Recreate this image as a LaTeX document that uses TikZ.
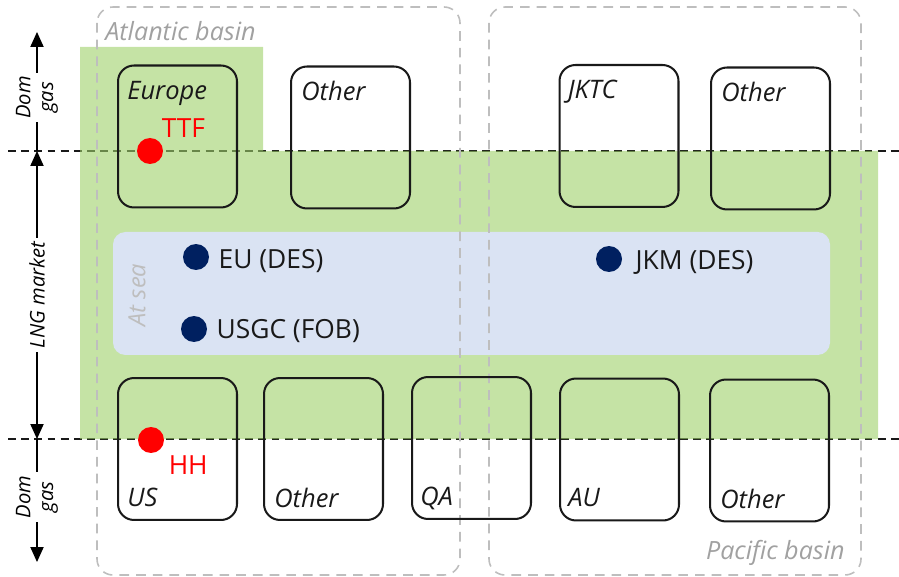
\documentclass[tikz,border=0pt]{standalone}
\usepackage{fontspec}
\setmainfont{Open Sans}
\usetikzlibrary{arrows.meta, positioning}

\definecolor{lngGreen}{RGB}{158,208,105}
\definecolor{seaBlue}{RGB}{218,227,243}
\definecolor{hubNavy}{RGB}{0,32,96}
\definecolor{basinGray}{RGB}{190,190,190}
\definecolor{inkGray}{RGB}{25,25,25}

\begin{document}
\begin{tikzpicture}[x=0.02cm, y=-0.02cm,
        >={Triangle[width=7.5pt, length=8.5pt]},
        market/.style={draw=inkGray, line width=1.15pt, rounded corners=0.32cm,
            minimum width=2.38cm, minimum height=2.84cm, inner sep=0pt},
        mktlbl/.style={text=inkGray, inner sep=0pt, font=\fontsize{14.5}{17}\selectfont\itshape},
        hub/.style={circle, fill=#1, minimum size=0.52cm, inner sep=0pt},
        hublbl/.style={inner sep=0pt, font=\fontsize{15}{18}\selectfont},
        basin/.style={draw=basinGray, line width=0.9pt, dash pattern=on 5.5pt off 4pt, rounded corners=0.32cm},
        basinlbl/.style={text=basinGray!85!black, inner sep=0pt, font=\fontsize{14.3}{17}\selectfont\itshape},
        split/.style={draw=inkGray, line width=0.6pt, dash pattern=on 4.5pt off 3pt},
        axis/.style={draw=black, line width=0.7pt},
        axislbl/.style={fill=white, rotate=90, align=center, inner sep=2pt,
            font=\fontsize{11.5}{13}\selectfont\itshape}]
    \useasboundingbox (0,0) rectangle (899,577);

    % Dom gas / LNG market split
    \draw[split] (8,151) -- (899,151);
    \draw[split] (8,439) -- (899,439);

    % LNG market area and ships at sea
    \fill[lngGreen, opacity=0.6] (80,47) rectangle (263,155) (80,151) rectangle (878,439);
    \fill[seaBlue, rounded corners=0.25cm] (113,232) rectangle (830,355);
    \node[rotate=90, text=basinGray, inner sep=0pt, font=\fontsize{13.5}{16}\selectfont\itshape] (sea) at (137,295) {At sea};

    % Basins
    \draw[basin] (97,7) rectangle (460,575);
    \draw[basin] (489,7) rectangle (861,575);
    \node[basinlbl, anchor=base west] (atl) at (105,41) {Atlantic basin};
    \node[basinlbl, anchor=base east] (pac) at (845,559) {Pacific basin};

    % Markets, top row
    \node[market] (eu) at (177.5,136.5) {};
    \node[market] (oth1) at (350.5,137.5) {};
    \node[market] (jktc) at (619,136) {};
    \node[market] (oth2) at (770.5,138.5) {};
    \node[mktlbl, anchor=base west] at ([shift={(0.2cm,-0.7cm)}]eu.north west) {Europe};
    \node[mktlbl, anchor=base west] at ([shift={(0.22cm,-0.7cm)}]oth1.north west) {Other};
    \node[mktlbl, anchor=base west] at ([shift={(0.18cm,-0.7cm)}]jktc.north west) {JKTC};
    \node[mktlbl, anchor=base west] at ([shift={(0.22cm,-0.7cm)}]oth2.north west) {Other};

    % Markets, bottom row
    \node[market] (us) at (177.5,449) {};
    \node[market] (oth3) at (323.5,449) {};
    \node[market] (qa) at (471.5,448) {};
    \node[market] (au) at (619.5,449.5) {};
    \node[market] (oth4) at (769.5,450.5) {};
    \node[mktlbl, anchor=base west] at ([shift={(0.2cm,0.3cm)}]us.south west) {US};
    \node[mktlbl, anchor=base west] at ([shift={(0.22cm,0.28cm)}]oth3.south west) {Other};
    \node[mktlbl, anchor=base west] at ([shift={(0.18cm,0.3cm)}]qa.south west) {QA};
    \node[mktlbl, anchor=base west] at ([shift={(0.18cm,0.3cm)}]au.south west) {AU};
    \node[mktlbl, anchor=base west] at ([shift={(0.22cm,0.28cm)}]oth4.south west) {Other};

    % Price hubs
    \node[hub=red] (ttf) at (150,151) {};
    \node[hublbl, text=red, above right=0.08cm and 0.04cm of ttf] {TTF};
    \node[hub=red] (hh) at (151,440) {};
    \node[hublbl, text=red, below right=0.12cm and 0.16cm of hh] {HH};
    \node[hub=hubNavy] (eudes) at (196,257) {};
    \node[hublbl, text=inkGray, right=0.18cm of eudes, yshift=-0.08cm] {EU (DES)};
    \node[hub=hubNavy] (usgc) at (194,329) {};
    \node[hublbl, text=inkGray, right=0.18cm of usgc, yshift=-0.05cm] {USGC (FOB)};
    \node[hub=hubNavy] (jkm) at (609,259) {};
    \node[hublbl, text=inkGray, right=0.26cm of jkm, yshift=-0.07cm] {JKM (DES)};

    % Side axis
    \coordinate (ax-top) at (37,32);
    \coordinate (ax-hi) at (37,151);
    \coordinate (ax-lo) at (37,439);
    \coordinate (ax-bot) at (37,562);
    \draw[axis, ->] (ax-hi) -- node[axislbl, pos=0.45] {Dom\\gas} (ax-top);
    \draw[axis, <->] (ax-hi) -- node[axislbl] {LNG market} (ax-lo);
    \draw[axis, ->] (ax-lo) -- node[axislbl, pos=0.47] {Dom\\gas} (ax-bot);
\end{tikzpicture}
\end{document}
